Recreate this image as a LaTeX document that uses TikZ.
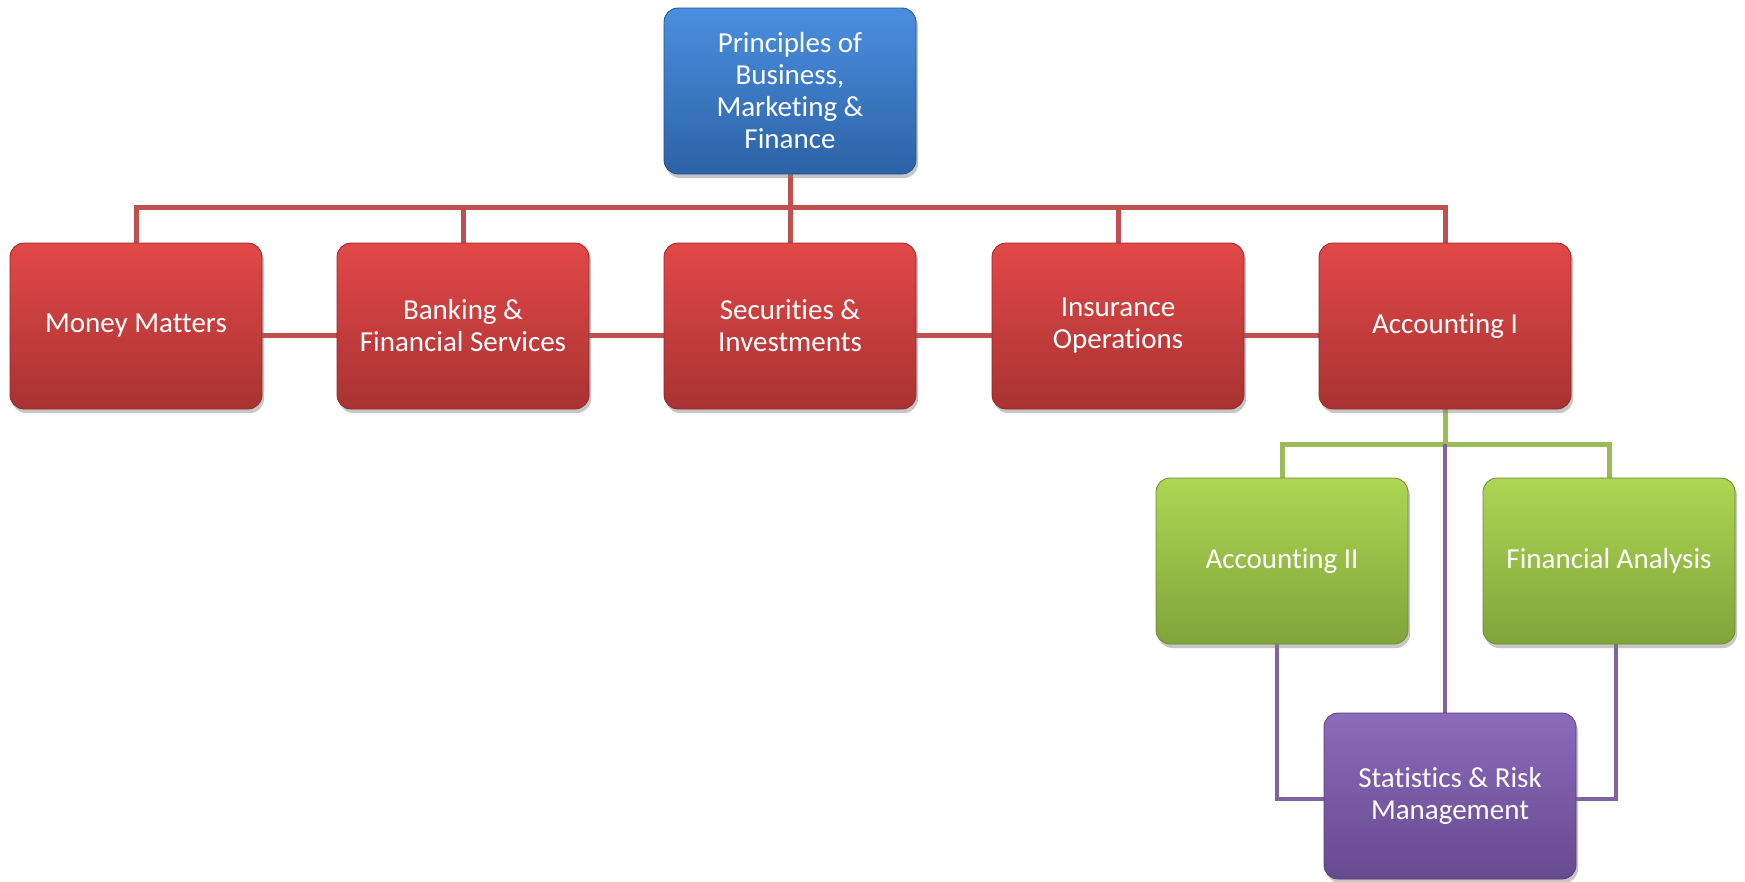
\documentclass[tikz,border=0pt]{standalone}
\usepackage{fontspec}
\setmainfont{Carlito}[Ligatures=NoCommon]
\usepackage{tikz}
\usetikzlibrary{shadows,backgrounds}

\definecolor{rootTop}{HTML}{4A8FDF}
\definecolor{rootBot}{HTML}{2C62A6}
\definecolor{coreTop}{HTML}{E24848}
\definecolor{coreBot}{HTML}{A93232}
\definecolor{nextTop}{HTML}{AED653}
\definecolor{nextBot}{HTML}{80A43A}
\definecolor{riskTop}{HTML}{8C6ABC}
\definecolor{riskBot}{HTML}{664A8E}
\definecolor{redLine}{HTML}{C0504D}
\definecolor{greenLine}{HTML}{9BBB59}
\definecolor{purpleLine}{HTML}{8064A2}

\tikzset{
    unit/.style={rounded corners=14pt, minimum width=252pt, minimum height=166pt,
        align=center, text=white, line width=0.8pt,
        font=\fontsize{29}{32}\selectfont,
        drop shadow={shadow xshift=2pt, shadow yshift=-4pt, opacity=0.45}},
    rootbox/.style={unit, draw=rootBot!85!black, top color=rootTop, bottom color=rootBot},
    corebox/.style={unit, draw=coreBot!85!black, top color=coreTop, bottom color=coreBot},
    nextbox/.style={unit, draw=nextBot!85!black, top color=nextTop, bottom color=nextBot},
    riskbox/.style={unit, draw=riskBot!85!black, top color=riskTop, bottom color=riskBot},
    redlink/.style={draw=redLine, line width=5pt},
    greenlink/.style={draw=greenLine, line width=5pt},
    purplelink/.style={draw=purpleLine, line width=4.5pt}
}

\begin{document}
\begin{tikzpicture}[x=1pt, y=-1pt]
    \useasboundingbox (0,0) rectangle (1745,881);

    % Top course
    \node[rootbox] (top) at (790,91) {Principles of\\Business,\\Marketing \&\\Finance};

    % Core courses
    \node[corebox] (mm)   at (136,326)  {Money Matters};
    \node[corebox] (bank) at (463,326)  {Banking \&\\Financial Services};
    \node[corebox] (sec)  at (790,326)  {Securities \&\\Investments};
    \node[corebox] (ins)  at (1118,326) {Insurance\\Operations};
    \node[corebox] (acc1) at (1445,326) {Accounting I};

    % Next level
    \node[nextbox] (acc2) at (1282,561) {Accounting II};
    \node[nextbox] (fin)  at (1609,561) {Financial Analysis};

    % Capstone
    \node[riskbox] (stats) at (1450,796) {Statistics \& Risk\\Management};

    \coordinate (redbus) at (790,207);
    \coordinate (greenbus) at (1445,444);

    \begin{scope}[on background layer]
        % Red tree
        \draw[redlink] (top.south) -- (redbus);
        \draw[redlink] (mm.north) -- (mm.north |- redbus) -- (acc1.north |- redbus) -- (acc1.north);
        \foreach \n in {bank,sec,ins}
            \draw[redlink] (\n.north) -- (\n.north |- redbus);
        \draw[redlink] ([yshift=-9pt]mm.east) -- ([yshift=-9pt]bank.west);
        \draw[redlink] ([yshift=-9pt]bank.east) -- ([yshift=-9pt]sec.west);
        \draw[redlink] ([yshift=-9pt]sec.east) -- ([yshift=-9pt]ins.west);
        \draw[redlink] ([yshift=-9pt]ins.east) -- ([yshift=-9pt]acc1.west);

        % Green tree
        \draw[greenlink] (acc1.south) -- (greenbus);
        \draw[greenlink] (acc2.north) |- (greenbus) -| (fin.north);

        % Purple links
        \draw[purplelink] (greenbus) -- (greenbus |- stats.north);
        \draw[purplelink] ([xshift=-5pt]acc2.south) |- ([yshift=-3pt]stats.west);
        \draw[purplelink] ([xshift=7pt]fin.south) |- ([yshift=-3pt]stats.east);
    \end{scope}
\end{tikzpicture}
\end{document}
